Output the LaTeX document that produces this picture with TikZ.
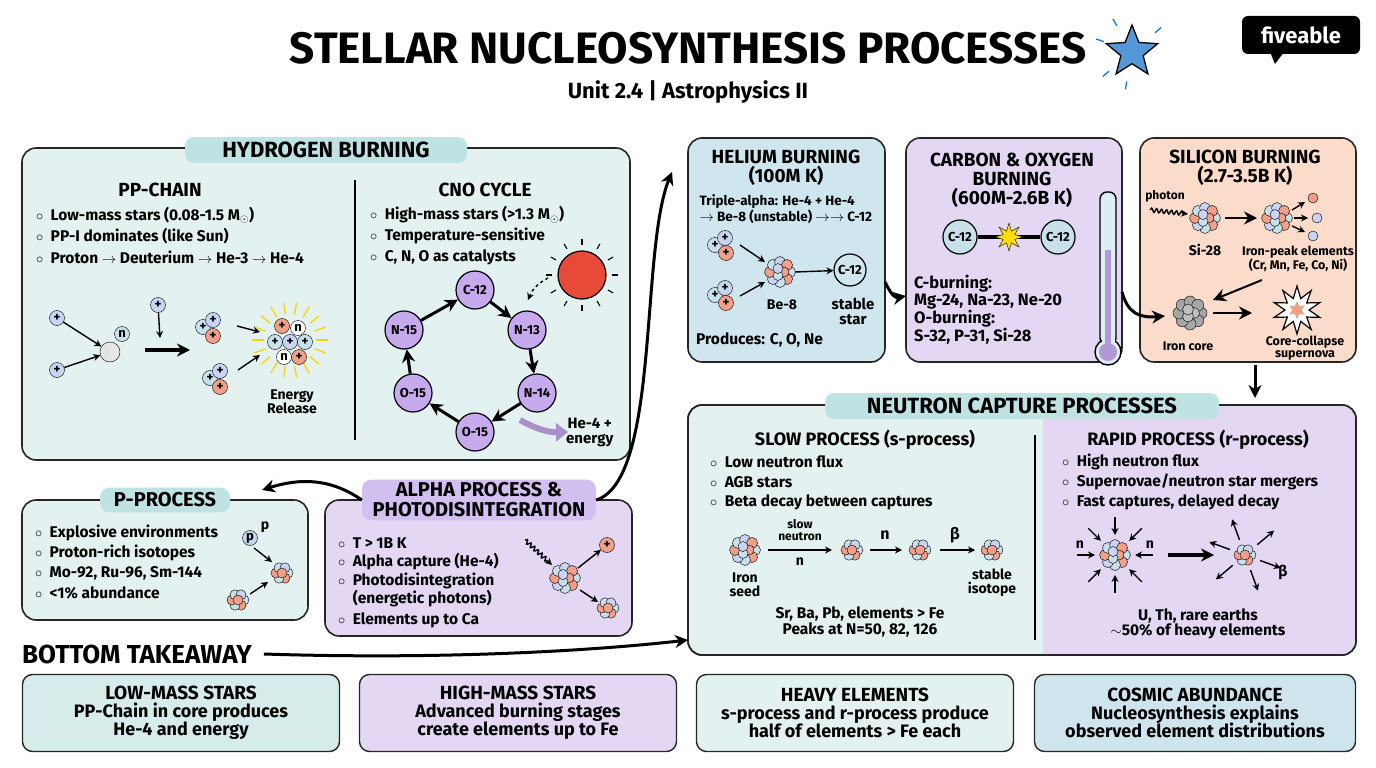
\documentclass[tikz,border=0pt]{standalone}
\usepackage{fontspec}
\setmainfont{Fira Sans}
\usetikzlibrary{arrows.meta,decorations.pathmorphing,shapes.geometric,shapes.misc,calc}
\definecolor{cy}{HTML}{E3F2F0}\definecolor{cyt}{HTML}{BFE3E2}
\definecolor{bl}{HTML}{CFE6EE}\definecolor{pu}{HTML}{E3D7F3}\definecolor{put}{HTML}{D2C0F0}
\definecolor{pe}{HTML}{FBDCCB}\definecolor{nb}{HTML}{C9D4F2}\definecolor{no}{HTML}{F0A088}
\definecolor{nl}{HTML}{C8E0EA}\definecolor{cn}{HTML}{C7A9EE}\definecolor{sun}{HTML}{E84A3A}
\definecolor{card1}{HTML}{D5ECEA}\definecolor{card4}{HTML}{CFE5EE}
\newcommand{\fs}[1]{\fontsize{#1}{#1}\selectfont}
\tikzset{
 box/.style={draw=black!85,line width=1.6pt,rounded corners=14pt},
 tab/.style={draw=none,rounded corners=9pt,inner sep=5pt,font=\fs{22}\bfseries},
 hd/.style={font=\fs{19}\bfseries,align=center},
 bul/.style={anchor=west,font=\fs{15.5}\bfseries,inner sep=0},
 sm/.style={font=\fs{14}\bfseries,align=center,inner sep=0},
 arr/.style={-{Stealth[length=13pt,width=13pt]},line width=2.4pt},
 tarr/.style={-{Stealth[length=7pt,width=7pt]},line width=1.4pt},
 pr/.style={circle,draw,fill=nb,inner sep=0,minimum size=15pt,font=\fs{13}\bfseries},
 po/.style={circle,draw,fill=no,inner sep=0,minimum size=15pt,font=\fs{13}\bfseries},
 cno/.style={circle,draw,line width=1.2pt,fill=cn,minimum size=38pt,inner sep=0,font=\fs{13}\bfseries},
 cc/.style={circle,draw,line width=1.2pt,fill=nl,minimum size=34pt,inner sep=0,font=\fs{13}\bfseries},
 card/.style={draw=black!85,line width=1.4pt,rounded corners=10pt,minimum width=317pt,minimum height=77pt,align=center,font=\fs{19}\bfseries},
 clu/.pic={\foreach \a/\c in {0/nl,60/no,120/nl,180/no,240/nl,300/nb}{\draw[fill=\c] (\a:6) circle (5);}\draw[fill=no] (0,0) circle (5);},
 cluB/.pic={\foreach \a/\c in {0/nl,45/no,90/nl,135/nb,180/no,225/nl,270/nb,315/no}{\draw[fill=\c] (\a:10) circle (5.5);}\foreach \a/\c in {0/no,120/nl,240/nb}{\draw[fill=\c] (\a:4) circle (5);}},
 cluD/.pic={\foreach \a in {0,45,...,315}{\draw[fill=gray!70] (\a:11) circle (6);}\foreach \a in {0,120,240}{\draw[fill=gray!50] (\a:4) circle (5.5);}},
}
\begin{document}
\begin{tikzpicture}[x=1pt,y=-1pt]
\useasboundingbox (0,0) rectangle (1376,768);
\fill[white] (0,0) rectangle (1376,768);
\node[font=\fs{44}\bfseries] (title) at (688,48) {STELLAR NUCLEOSYNTHESIS PROCESSES};
\node[font=\fs{22}\bfseries] (sub) at (688,92) {Unit 2.4 | Astrophysics II};
\node[star,star points=5,star point ratio=2.3,fill=cyan!60!blue!70,draw,line width=1.3pt,minimum size=54pt,inner sep=0] (st) at (1132,52) {};
\foreach \a in {100,140,200,240,320}{\draw[cyan!60!blue,line width=1.3pt] ($(1132,52)+(\a:30)$) -- ($(1132,52)+(\a:38)$);}
\node[fill=black,text=white,rounded corners=6pt,font=\fs{22}\bfseries,minimum width=118pt,minimum height=38pt] (logo) at (1301,35) {fiveable};
\fill[black] (1270,52) -- (1275,64) -- (1284,52) -- cycle;
\draw[box,fill=cy] (22,148) rectangle (630,460);
\node[tab,fill=cyt,minimum width=282pt] (hb) at (326,150) {HYDROGEN BURNING};
\draw[line width=1.2pt] (355,180) -- (355,440);
\node[hd] at (160,190) {PP-CHAIN};
\node[bul] at (36,215) {$\circ$~ Low-mass stars (0.08-1.5 M$_\odot$)};
\node[bul] at (36,236) {$\circ$~ PP-I dominates (like Sun)};
\node[bul] at (36,257) {$\circ$~ Proton $\rightarrow$ Deuterium $\rightarrow$ He-3 $\rightarrow$ He-4};
\node[hd] at (485,190) {CNO CYCLE};
\node[bul] at (370,215) {$\circ$~ High-mass stars (>1.3 M$_\odot$)};
\node[bul] at (370,236) {$\circ$~ Temperature-sensitive};
\node[bul] at (370,257) {$\circ$~ C, N, O as catalysts};
\node[pr] (p1) at (57,318) {+}; \node[pr] (p2) at (57,370) {+};
\node[circle,draw,fill=gray!20,minimum size=20pt] (d1) at (110,352) {};
\node[pr,fill=nl] (n1) at (122,334) {n};
\draw[tarr] (p1) -- (d1); \draw[tarr] (p2) -- (d1);
\node[pr] (p3) at (158,305) {+}; \draw[tarr] (p3) -- (160,338);
\draw[arr,line width=3.5pt] (145,350) -- (190,350);
\node[pr,fill=nl] at (203,327) {+}; \node[pr] at (213,320) {+}; \node[po] at (213,336) {+};
\node[pr,fill=nl] at (210,378) {+}; \node[pr] at (220,371) {+}; \node[po] at (220,387) {+};
\coordinate (he) at (290,340);
\foreach \a in {0,20,...,340}{\draw[yellow!70!orange,line width=1.3pt] ($(he)+(\a:26)$) -- ($(he)+(\a:38)$);}
\node[po] at (282,326) {+}; \node[pr,fill=white] at (298,328) {n};
\node[pr,fill=nl] at (275,342) {+}; \node[pr] at (290,342) {+}; \node[pr,fill=nl] at (305,342) {+};
\node[pr,fill=white] at (284,357) {n}; \node[po] at (299,357) {+};
\draw[tarr] (237,326) -- (260,332); \draw[tarr] (238,370) -- (260,355);
\node[sm] at (292,402) {Energy\\Release};
\node[cno] (c12) at (475,290) {C-12};
\node[cno] (n13) at (527,330) {N-13};
\node[cno] (n14) at (537,393) {N-14};
\node[cno] (o15b) at (475,432) {O-15};
\node[cno] (o15a) at (413,393) {O-15};
\node[cno] (n15) at (404,330) {N-15};
\foreach \a/\b in {c12/n13,n13/n14,n14/o15b,o15b/o15a,o15a/n15,n15/c12}{\draw[arr,line width=3pt] (\a) -- (\b);}
\node[circle,fill=sun,draw,line width=1.2pt,minimum size=48pt] (sun) at (582,275) {};
\foreach \a in {0,30,...,330}{\draw[line width=1.1pt] ($(582,275)+(\a:30)$) -- ($(582,275)+(\a:36)$);}
\draw[tarr,dashed] (548,278) to[bend right=20] (528,300);
\draw[-{Triangle[length=12pt,width=18pt]},line width=6pt,cn!85!black] (520,420) to[bend right=15] (568,432);
\node[sm,anchor=west,font=\fs{15}\bfseries] at (566,432) {He-4 +\\energy};
\draw[box,fill=bl] (688,138) rectangle (885,362);
\node[hd] at (786,168) {HELIUM BURNING\\(100M K)};
\node[font=\fs{13.5}\bfseries,align=left,anchor=west] at (696,209) {Triple-alpha: He-4 + He-4\\$\rightarrow$ Be-8 (unstable) $\rightarrow\rightarrow$ C-12};
\node[pr,fill=nl] at (715,245) {+}; \node[pr] at (725,238) {+}; \node[po] at (726,253) {+};
\node[pr,fill=nl] at (715,295) {+}; \node[pr] at (725,288) {+}; \node[po] at (726,303) {+};
\pic at (780,272) {cluB};
\draw[tarr] (740,245) -- (765,262); \draw[tarr] (740,296) -- (765,282);
\node[cc,fill=bl,minimum size=32pt] (c12h) at (850,270) {C-12};
\draw[tarr] (795,272) -- (c12h);
\node[sm] at (782,305) {Be-8};
\node[sm,font=\fs{15}\bfseries] at (853,311) {stable\\star};
\node[bul] at (696,340) {Produces: C, O, Ne};
\draw[box,fill=pu] (906,138) rectangle (1122,362);
\node[hd] at (1012,180) {CARBON \& OXYGEN\\BURNING\\(600M-2.6B K)};
\node[cc] (ca) at (960,237) {C-12}; \node[cc] (cb) at (1058,237) {C-12};
\draw[line width=4pt] (ca) -- (cb);
\node[star,star points=8,star point ratio=2.2,fill=yellow!80!orange,draw,minimum size=28pt,inner sep=0] at (1009,237) {};
\node[bul,font=\fs{16.5}\bfseries,align=left] at (914,310) {C-burning:\\Mg-24, Na-23, Ne-20\\O-burning:\\S-32, P-31, Si-28};
\draw[line width=1.4pt,fill=bl!70,rounded corners=7pt] (1100,192) rectangle (1116,345);
\draw[line width=1.4pt,fill=bl!70] (1108,352) circle (13);
\fill[bl!70] (1101.5,330) rectangle (1114.5,345);
\fill[cn!90!black] (1105,250) rectangle (1111,350); \fill[cn!90!black] (1108,352) circle (9);
\draw[box,fill=pe] (1140,138) rectangle (1356,362);
\node[hd] at (1245,168) {SILICON BURNING\\(2.7-3.5B K)};
\node[font=\fs{12}\bfseries] at (1165,196) {photon};
\draw[tarr,decorate,decoration={snake,amplitude=2pt,segment length=5pt,post length=5pt}] (1150,210) -- (1188,214);
\pic at (1205,218) {cluB};
\node[sm] at (1205,250) {Si-28};
\draw[arr] (1225,218) -- (1257,218);
\pic at (1277,218) {cluB};
\draw[tarr] (1292,210) -- (1305,202); \draw[tarr] (1294,218) -- (1308,218); \draw[tarr] (1292,226) -- (1305,232);
\draw[fill=no] (1313,198) circle (5); \draw[fill=nb] (1317,218) circle (5); \draw[fill=nb] (1313,236) circle (5);
\node[font=\fs{12.5}\bfseries,align=center] at (1298,259) {Iron-peak elements\\(Cr, Mn, Fe, Co, Ni)};
\draw[arr,line width=2pt] (1262,280) -- (1213,300);
\pic at (1190,313) {cluD};
\node[font=\fs{12.5}\bfseries] at (1188,346) {Iron core};
\draw[arr] (1213,313) -- (1252,313);
\node[star,star points=10,star point ratio=2,draw,line width=1.2pt,fill=white,minimum size=48pt,inner sep=0] at (1297,310) {};
\node[star,star points=6,star point ratio=2,fill=no,minimum size=18pt,inner sep=0] at (1297,310) {};
\node[font=\fs{12.5}\bfseries,align=center] at (1305,348) {Core-collapse\\supernova};
\draw[box,fill=cy] (688,405) rectangle (1356,655);
\begin{scope}
\clip[rounded corners=14pt] (688,405) rectangle (1356,655);
\fill[pu] (1043,405) rectangle (1356,655);
\end{scope}
\draw[box] (688,405) rectangle (1356,655);
\draw[line width=1.2pt] (1035,435) -- (1035,640);
\node[tab,fill=cyt,minimum width=394pt] (nc) at (1022,406) {NEUTRON CAPTURE PROCESSES};
\node[hd,font=\fs{18}\bfseries] at (865,440) {SLOW PROCESS (s-process)};
\node[bul] at (710,462) {$\circ$~ Low neutron flux};
\node[bul] at (710,482) {$\circ$~ AGB stars};
\node[bul] at (710,502) {$\circ$~ Beta decay between captures};
\pic at (745,550) {cluB}; \node[sm] at (745,585) {Iron\\seed};
\draw[tarr] (768,550) -- (832,550);
\node[sm,font=\fs{12}\bfseries] at (800,530) {slow\\neutron}; \node[sm] at (800,562) {n};
\pic at (852,550) {clu};
\draw[tarr] (870,550) -- (902,550); \node[sm,font=\fs{16}\bfseries] at (885,535) {n};
\pic at (920,550) {clu};
\draw[tarr] (940,550) -- (975,550); \node[sm,font=\fs{16}\bfseries] at (955,535) {β};
\pic at (992,550) {clu}; \node[sm] at (992,583) {stable\\isotope};
\node[font=\fs{15.5}\bfseries,align=center] at (860,622) {Sr, Ba, Pb, elements > Fe\\Peaks at N=50, 82, 126};
\node[hd,font=\fs{18}\bfseries] at (1198,440) {RAPID PROCESS (r-process)};
\node[bul] at (1062,462) {$\circ$~ High neutron flux};
\node[bul] at (1062,482) {$\circ$~ Supernovae/neutron star mergers};
\node[bul] at (1062,502) {$\circ$~ Fast captures, delayed decay};
\pic at (1115,555) {cluB};
\foreach \a in {0,45,...,315}{\draw[tarr] ($(1115,555)+(\a:38)$) -- ($(1115,555)+(\a:20)$);}
\node[sm] at (1080,545) {n}; \node[sm] at (1150,545) {n};
\draw[arr,line width=3.5pt] (1168,555) -- (1214,555);
\pic at (1245,555) {clu};
\foreach \a in {20,70,140,200,250,320}{\draw[tarr] ($(1245,555)+(\a:16)$) -- ($(1245,555)+(\a:38)$);}
\node[sm,font=\fs{15}\bfseries] at (1283,572) {β};
\node[font=\fs{15.5}\bfseries,align=center] at (1198,624) {U, Th, rare earths\\$\sim$50\% of heavy elements};
\draw[box,fill=cy] (22,500) rectangle (308,620);
\node[tab,fill=cyt,minimum width=130pt,font=\fs{20}\bfseries] (pp) at (165,500) {P-PROCESS};
\node[bul] at (35,533) {$\circ$~ Explosive environments};
\node[bul] at (35,553) {$\circ$~ Proton-rich isotopes};
\node[bul] at (35,573) {$\circ$~ Mo-92, Ru-96, Sm-144};
\node[bul] at (35,593) {$\circ$~ <1\% abundance};
\node[pr] at (250,538) {p}; \node[sm] at (265,527) {p};
\draw[tarr] (254,548) -- (272,562);
\pic at (282,573) {clu}; \pic at (238,600) {clu};
\draw[tarr] (250,594) -- (268,582);
\draw[box,fill=pu] (325,500) rectangle (632,636);
\node[tab,fill=put,minimum width=234pt,font=\fs{20}\bfseries,align=center,inner sep=3pt] (al) at (479,500) {ALPHA PROCESS \&\\PHOTODISINTEGRATION};
\node[bul] at (338,543) {$\circ$~ T > 1B K};
\node[bul] at (338,562) {$\circ$~ Alpha capture (He-4)};
\node[bul,align=left] at (338,590) {$\circ$~ Photodisintegration\\\phantom{$\circ$~ }(energetic photons)};
\node[bul] at (338,620) {$\circ$~ Elements up to Ca};
\draw[tarr,decorate,decoration={snake,amplitude=2pt,segment length=5pt,post length=5pt}] (525,540) -- (552,565);
\pic at (565,578) {cluB};
\node[po] (ao) at (607,545) {+}; \draw[tarr] (578,568) -- (ao);
\pic at (608,608) {clu}; \draw[tarr] (580,590) -- (598,602);
\draw[arr,line width=3pt] (al.east) .. controls (660,480) and (640,250) .. (672,172);
\draw[arr,line width=3pt] (al.west) .. controls (330,478) and (300,478) .. (262,490);
\draw[arr,line width=3pt] (885,282) .. controls (892,296) and (895,298) .. (906,296);
\draw[arr,line width=3pt] (1122,292) .. controls (1128,314) and (1140,318) .. (1165,316);
\draw[arr,line width=3pt] (1255,365) -- (1255,398);
\node[font=\fs{26}\bfseries,anchor=west,inner sep=0] (bt) at (22,654) {BOTTOM TAKEAWAY};
\draw[arr,line width=3pt] ($(bt.east)+(12,0)$) .. controls (450,660) and (600,650) .. (688,640);
\node[card,fill=card1] (k1) at (181,713) {LOW-MASS STARS\\[-1pt]{\fs{18}\bfseries PP-Chain in core produces}\\[-1pt]{\fs{18}\bfseries He-4 and energy}};
\node[card,fill=pu] (k2) at (518,713) {HIGH-MASS STARS\\[-1pt]{\fs{18}\bfseries Advanced burning stages}\\[-1pt]{\fs{18}\bfseries create elements up to Fe}};
\node[card,fill=cy] (k3) at (855,713) {HEAVY ELEMENTS\\[-1pt]{\fs{18}\bfseries s-process and r-process produce}\\[-1pt]{\fs{18}\bfseries half of elements > Fe each}};
\node[card,fill=card4,minimum width=321pt] (k4) at (1195,713) {COSMIC ABUNDANCE\\[-1pt]{\fs{18}\bfseries Nucleosynthesis explains}\\[-1pt]{\fs{18}\bfseries observed element distributions}};
\end{tikzpicture}
\end{document}
